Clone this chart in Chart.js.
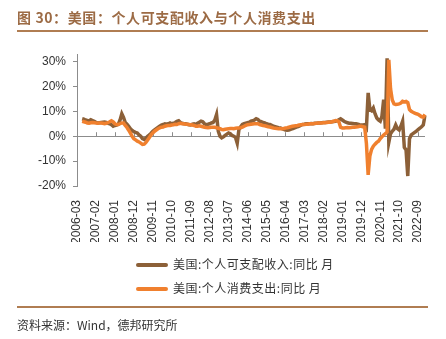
<!DOCTYPE html>
<html>
<head>
<meta charset="utf-8">
<script src="https://cdn.jsdelivr.net/npm/chart.js@4.4.1/dist/chart.umd.min.js"></script>
<style>
  html, body { margin: 0; padding: 0; background: #fff; }
  body { width: 446px; height: 339px; position: relative; overflow: hidden; font-family: "Noto Sans CJK SC", sans-serif; }
  #chart { position: absolute; left: 0; top: 0; }
  .title { position: absolute; left: 17px; top: 7px; font-size: 14px; font-weight: bold; color: #9c6b45; letter-spacing: 0.6px; white-space: nowrap; }
  .rule { position: absolute; left: 17px; width: 411px; height: 2px; background: #b07d52; }
  .legend { position: absolute; left: 136px; top: 255px; font-size: 12px; color: #333; letter-spacing: 0.5px; }
  .legend div { height: 24px; line-height: 18px; white-space: nowrap; }
  .legend span.swatch { display: inline-block; width: 32px; height: 4px; border-radius: 2px; vertical-align: middle; margin-right: 5px; position: relative; top: -1px; }
  .source { position: absolute; left: 17px; top: 316px; font-size: 12px; color: #333; white-space: nowrap; }
</style>
</head>
<body>
<canvas id="chart" width="446" height="339"></canvas>
<div class="title">图 30：美国：个人可支配收入与个人消费支出</div>
<div class="rule" style="top:30px"></div>
<div class="legend" id="legend"></div>
<div class="rule" style="top:306px"></div>
<div class="source">资料来源：Wind，德邦研究所</div>
<script>
// Monthly, 2006-03 .. 2023-01, YoY %
const startYear = 2006, startMonth = 3, monthCount = 203;

const seriesNames = ['美国:个人可支配收入:同比 月', '美国:个人消费支出:同比 月'];
const seriesColors = ['#8c6038', '#f0802e'];

const incomeYoY = [
  null, null, null, 7.0, 6.8, 6.5, 6.3, 6.2, 6.6, 6.3,
  6.0, 5.6, 5.3, 5.4, 5.5, 5.6, 5.7, 5.5, 5.2, 5.0, 4.6, 4.0,
  4.3, 4.5, 4.8, 6.5, 9.0, 7.5, 5.5, 4.8, 4.0, 3.0, 2.3, 1.8,
  1.5, 1.3, 0.5, 0.0, -1.0, -1.3, -0.8, 0.0, 0.5, 1.2, 2.0, 2.5,
  3.0, 3.5, 4.0, 4.5, 4.7, 5.0, 4.8, 5.0, 5.3, 5.0, 5.2, 5.5,
  6.0, 6.2, 5.5, 5.2, 5.0, 5.0, 4.8, 4.6, 4.5, 4.8, 5.0, 4.7,
  5.2, 5.6, 6.0, 5.8, 5.0, 4.7, 4.8, 5.0, 5.3, 5.5, 6.5, 8.7,
  2.0, 0.0, -0.7, -0.3, 0.3, 0.8, 1.3, 1.0, 0.3, 0.0, -0.5, -2.8,
  2.7, 3.8, 4.7, 5.0, 5.2, 5.4, 5.6, 6.0, 6.2, 6.5, 7.0, 6.7,
  6.0, 5.8, 5.5, 5.3, 5.0, 4.8, 4.7, 4.4, 4.0, 3.8, 3.6, 3.4,
  3.3, 3.0, 2.7, 2.5, 2.4, 2.5, 2.7, 3.0, 3.2, 3.5, 3.8, 4.0,
  4.4, 4.7, 4.8, 5.0, 5.0, 5.0, 5.1, 5.0, 5.2, 5.2, 5.3, 5.3,
  5.4, 5.5, 5.5, 5.6, 5.7, 5.7, 5.8, 5.9, 6.0, 6.2, 6.6, 7.0,
  6.5, 6.0, 5.6, 5.4, 5.2, 5.2, 5.1, 5.0, 5.0, 4.8, 4.6, 4.5,
  4.5, 4.6, 3.5, 17.4, 10.7, 10.2, 11.3, 9.0, 7.3, 6.5, 6.0, 8.0,
  14.7, 3.0, 31.3, -2.5, 1.0, 2.0, 2.8, 4.5, 3.0, 2.5, 4.0, 6.0,
  -4.5, -5.5, -16.0, -1.0, 0.5, 1.0, 1.5, 2.0, 2.7, 3.2, 3.8, 4.5,
  8.3
];

const spendingYoY = [
  null, null, null, 6.0, 5.8, 5.6, 5.3, 5.2, 5.4, 5.5,
  5.4, 5.3, 5.2, 5.3, 5.3, 5.2, 5.0, 5.2, 5.5, 5.8, 6.2, 5.8,
  5.0, 4.7, 4.7, 5.0, 5.3, 5.3, 4.3, 3.5, 2.4, 1.2, 0.0, -1.0,
  -1.5, -2.0, -2.3, -2.8, -3.3, -3.2, -2.5, -1.5, -0.5, 0.5, 1.3, 2.0,
  2.5, 3.0, 3.3, 3.6, 3.7, 4.0, 4.2, 4.3, 4.3, 4.5, 4.6, 4.8,
  4.7, 5.0, 5.2, 5.0, 5.0, 4.8, 4.8, 4.7, 4.6, 4.5, 4.3, 4.0,
  4.0, 4.2, 4.0, 3.8, 3.6, 3.5, 3.4, 3.5, 3.6, 3.6, 3.6, 3.4,
  3.2, 3.0, 2.7, 2.6, 2.8, 2.9, 3.0, 3.1, 3.1, 3.0, 3.2, 3.3,
  3.3, 3.4, 3.6, 4.0, 4.3, 4.6, 4.7, 4.8, 4.9, 5.0, 5.0, 5.0,
  4.7, 4.5, 4.3, 4.2, 4.0, 3.8, 3.7, 3.5, 3.3, 3.2, 3.1, 3.0,
  3.0, 3.0, 3.1, 3.3, 3.4, 3.6, 3.8, 4.0, 4.1, 4.2, 4.3, 4.5,
  4.6, 4.7, 4.7, 4.8, 4.8, 5.0, 5.0, 5.0, 5.1, 5.2, 5.3, 5.3,
  5.3, 5.4, 5.4, 5.5, 5.6, 5.6, 5.8, 6.0, 6.3, 6.2, 5.8, 3.6,
  3.3, 3.3, 3.4, 3.5, 3.4, 3.5, 3.6, 3.6, 3.7, 3.8, 4.0, 4.0,
  3.8, 3.6, -3.0, -15.5, -8.0, -5.3, -4.0, -3.2, -2.5, -2.0, -1.0, -0.3,
  0.5, 1.0, 1.7, 30.7, 19.0, 14.5, 13.0, 12.7, 12.8, 13.0, 13.3, 14.0,
  13.8, 14.0, 13.5, 10.7, 10.0, 9.6, 9.3, 9.0, 8.8, 8.3, 7.8, 7.7,
  8.7
];

// y axis tick values shown as labels
const yTicks = [-20, -10, 0, 10, 20, 30];
const labelEvery = 11; // one x label every 11 months

// Build month labels like 2006-03
const months = [];
for (let i = 0; i < monthCount; i++) {
  const total = (startMonth - 1) + i;
  const y = startYear + Math.floor(total / 12);
  const m = (total % 12) + 1;
  months.push(y + '-' + String(m).padStart(2, '0'));
}

// Legend built from the series
const legendEl = document.getElementById('legend');
seriesNames.forEach((name, i) => {
  legendEl.innerHTML += `<div><span class="swatch" style="background:${seriesColors[i]}"></span>${name}</div>`;
});

const axisColor = '#8c8c8c';
const tickFont = { family: '"Liberation Sans", Arial, sans-serif', size: 12 };

// Small tick marks standing on the zero line
const zeroTicks = {
  id: 'zeroTicks',
  beforeDatasetsDraw(chart) {
    const x = chart.scales.x, y = chart.scales.y;
    const y0 = y.getPixelForValue(0);
    const ctx = chart.ctx;
    ctx.save();
    ctx.strokeStyle = axisColor;
    ctx.lineWidth = 1;
    ctx.beginPath();
    for (let i = labelEvery; i < months.length; i += labelEvery) {
      const px = Math.round(x.getPixelForValue(i)) + 0.5;
      ctx.moveTo(px, y0);
      ctx.lineTo(px, y0 - 4);
    }
    ctx.stroke();
    ctx.restore();
  }
};

new Chart(document.getElementById('chart'), {
  type: 'line',
  data: {
    labels: months,
    datasets: [{
      label: seriesNames[0],
      data: incomeYoY,
      borderColor: seriesColors[0],
      borderWidth: 3.5,
      pointRadius: 0,
      tension: 0,
      order: 1
    }, {
      label: seriesNames[1],
      data: spendingYoY,
      borderColor: seriesColors[1],
      borderWidth: 3.5,
      pointRadius: 0,
      tension: 0,
      order: 0
    }]
  },
  options: {
    responsive: false,
    animation: false,
    layout: { padding: { left: 7, right: 21, top: 54, bottom: 97 } },
    plugins: {
      legend: { display: false },
      tooltip: { enabled: false }
    },
    scales: {
      x: {
        grid: { display: false },
        border: { display: false },
        afterFit(scale) { scale.height = 56; },
        ticks: {
          autoSkip: false,
          minRotation: 90,
          maxRotation: 90,
          padding: 6,
          color: '#333',
          font: tickFont,
          callback: (v, i) => (i % labelEvery === 0 ? months[i] : null)
        }
      },
      y: {
        min: -20,
        max: 33,
        afterFit(scale) { scale.width = 70; },
        afterBuildTicks(scale) { scale.ticks = yTicks.map(v => ({ value: v })); },
        border: { display: true, color: axisColor },
        grid: {
          color: ctx => (ctx.tick && ctx.tick.value === 0 ? axisColor : 'rgba(0,0,0,0)'),
          tickColor: axisColor,
          tickLength: 4
        },
        ticks: {
          padding: 7,
          color: '#333',
          font: tickFont,
          callback: v => v + '%'
        }
      }
    }
  },
  plugins: [zeroTicks]
});
</script>
</body>
</html>
